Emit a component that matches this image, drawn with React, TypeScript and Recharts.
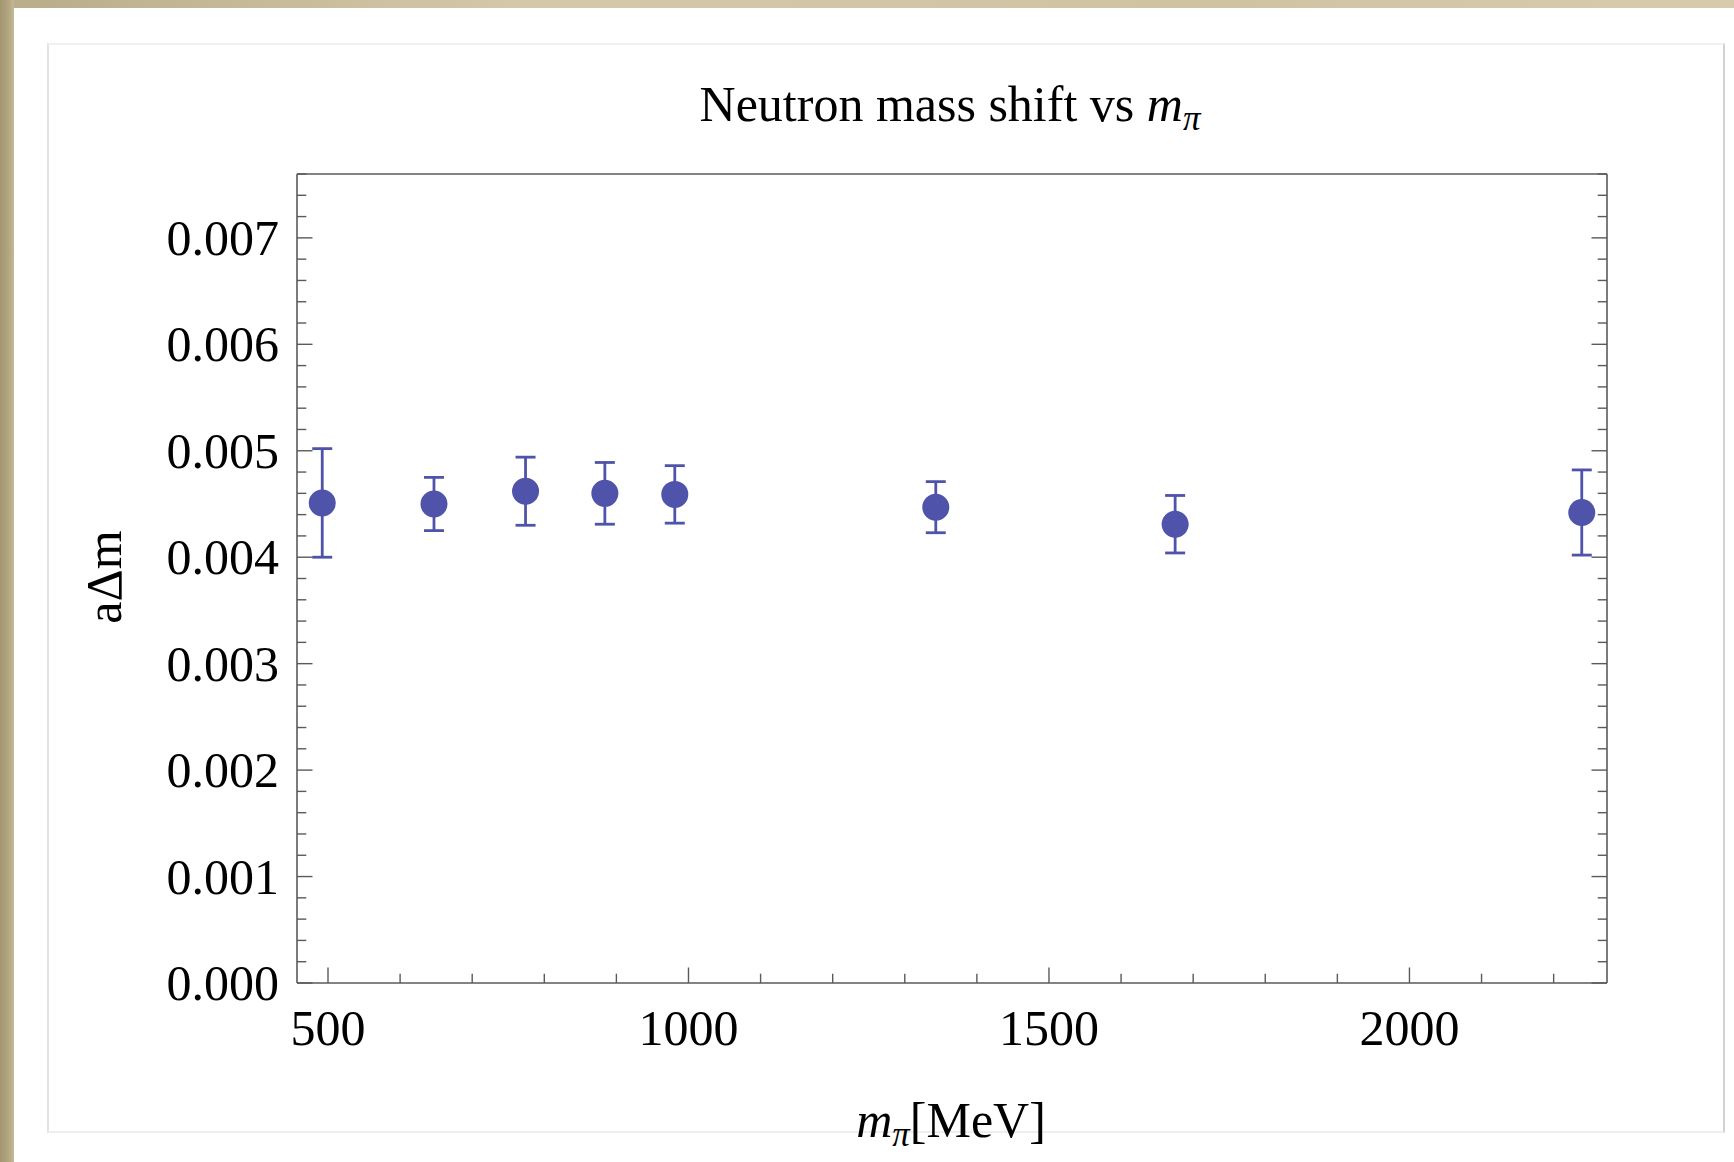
import React from "react";
import { ScatterChart, Scatter, XAxis, YAxis, ErrorBar } from "recharts";

// pion mass [MeV], neutron mass shift aΔm and its error
const pionMass = [492, 647, 774, 884, 981, 1343, 1675, 2239];
const massShift = [0.00451, 0.0045, 0.00462, 0.0046, 0.00459, 0.00447, 0.00431, 0.00442];
const shiftError = [0.00051, 0.00025, 0.00032, 0.00029, 0.00027, 0.00024, 0.00027, 0.0004];

const xMajorTicks = [500, 1000, 1500, 2000];
const yMajorTicks = [0, 0.001, 0.002, 0.003, 0.004, 0.005, 0.006, 0.007];
const xDomain = [457, 2274];
const yDomain = [0, 0.0076];

// minor ticks every 100 MeV and every 0.0002
const xTicks = Array.from({ length: 18 }, (_, i) => 500 + i * 100);
const yTicks = Array.from({ length: 39 }, (_, i) => +(i * 0.0002).toFixed(4));

const DOT = "#4f53a9";
const FRAME = "#5a5a5a";
const FONT = "'Liberation Serif', 'Times New Roman', serif";
const MAJOR_LEN = 15.5;
const MINOR_LEN = 9.3;

const isMajorX = (v: number) => xMajorTicks.includes(v);
const isMajorY = (v: number) => yMajorTicks.some((t) => Math.abs(t - v) < 1e-9);

const points = pionMass.map((m, i) => ({ m, shift: massShift[i], err: shiftError[i] }));

const BottomTick = (props: any) => {
  const { x, y, payload } = props;
  const major = isMajorX(payload.value);
  return (
    <g>
      <line x1={x} x2={x} y1={y} y2={y - (major ? MAJOR_LEN : MINOR_LEN)} stroke={FRAME} strokeWidth={1.4} />
      {major && (
        <text x={x} y={y + 62} textAnchor="middle" fontSize={50} fontFamily={FONT} fill="#000">
          {payload.value}
        </text>
      )}
    </g>
  );
};

const TopTick = (props: any) => {
  const { x, y, payload } = props;
  const major = isMajorX(payload.value);
  return <line x1={x} x2={x} y1={y} y2={y + (major ? MAJOR_LEN : MINOR_LEN)} stroke={FRAME} strokeWidth={1.4} />;
};

const LeftTick = (props: any) => {
  const { x, y, payload } = props;
  const major = isMajorY(payload.value);
  return (
    <g>
      <line x1={x} x2={x + (major ? MAJOR_LEN : MINOR_LEN)} y1={y} y2={y} stroke={FRAME} strokeWidth={1.4} />
      {major && (
        <text x={x - 18} y={y + 17} textAnchor="end" fontSize={50} fontFamily={FONT} fill="#000">
          {payload.value.toFixed(3)}
        </text>
      )}
    </g>
  );
};

const RightTick = (props: any) => {
  const { x, y, payload } = props;
  const major = isMajorY(payload.value);
  return <line x1={x} x2={x - (major ? MAJOR_LEN : MINOR_LEN)} y1={y} y2={y} stroke={FRAME} strokeWidth={1.4} />;
};

const Dot = (props: any) => <circle cx={props.cx} cy={props.cy} r={13.5} fill={DOT} />;

export default function App() {
  return (
    <div style={{ position: "absolute", left: 0, top: 0, width: 1734, height: 1162, overflow: "hidden", background: "#fff" }}>
      <div style={{ position: "absolute", left: 0, top: 0, width: 1734, height: 8, background: "linear-gradient(90deg, #b9ad88, #d3c9a9 30%, #cfc4a2 70%, #d6ccad)" }} />
      <div style={{ position: "absolute", left: 0, top: 0, width: 14, height: 1162, background: "linear-gradient(90deg, #a2966f, #b1a680 60%, #c4b995)" }} />
      <div
        style={{
          position: "absolute",
          left: 47,
          top: 43,
          width: 1674,
          height: 1086,
          borderTop: "2px solid #f1f1f1",
          borderLeft: "2px solid #e2e2e2",
          borderRight: "2px solid #d2d2d2",
          borderBottom: "2px solid #eeeeee",
        }}
      />
      <div style={{ position: "absolute", left: 0, top: 0 }}>
        <ScatterChart width={1734} height={1162} margin={{ top: 173, right: 126, bottom: 178, left: 296 }}>
          <XAxis
            dataKey="m"
            type="number"
            domain={xDomain}
            allowDataOverflow
            ticks={xTicks}
            interval={0}
            height={1}
            tickSize={0}
            tickMargin={0}
            tickLine={false}
            tick={BottomTick}
            axisLine={{ stroke: FRAME, strokeWidth: 1.6 }}
          />
          <XAxis
            xAxisId="top"
            orientation="top"
            type="number"
            domain={xDomain}
            allowDataOverflow
            ticks={xTicks}
            interval={0}
            height={1}
            tickSize={0}
            tickMargin={0}
            tickLine={false}
            tick={TopTick}
            axisLine={{ stroke: FRAME, strokeWidth: 1.6 }}
          />
          <YAxis
            dataKey="shift"
            type="number"
            domain={yDomain}
            allowDataOverflow
            ticks={yTicks}
            interval={0}
            width={1}
            tickSize={0}
            tickMargin={0}
            tickLine={false}
            tick={LeftTick}
            axisLine={{ stroke: FRAME, strokeWidth: 1.6 }}
          />
          <YAxis
            yAxisId="right"
            orientation="right"
            type="number"
            domain={yDomain}
            allowDataOverflow
            ticks={yTicks}
            interval={0}
            width={1}
            tickSize={0}
            tickMargin={0}
            tickLine={false}
            tick={RightTick}
            axisLine={{ stroke: FRAME, strokeWidth: 1.6 }}
          />
          <Scatter data={points} fill={DOT} shape={Dot} isAnimationActive={false}>
            <ErrorBar dataKey="err" direction="y" width={10} strokeWidth={2.8} stroke={DOT} isAnimationActive={false} />
          </Scatter>
        </ScatterChart>
      </div>
      <svg width={1734} height={1162} style={{ position: "absolute", left: 0, top: 0, pointerEvents: "none" }}>
        <text x={950} y={121} textAnchor="middle" fontSize={50} fontFamily={FONT} fill="#000">
          Neutron mass shift vs <tspan fontStyle="italic">m</tspan>
          <tspan fontStyle="italic" fontSize={35} dy={9}>π</tspan>
        </text>
        <text x={951} y={1137} textAnchor="middle" fontSize={50} fontFamily={FONT} fill="#000">
          <tspan fontStyle="italic">m</tspan>
          <tspan fontStyle="italic" fontSize={35} dy={9}>π</tspan>
          <tspan dy={-9}>[MeV]</tspan>
        </text>
        <text transform="translate(121,577) rotate(-90)" textAnchor="middle" fontSize={50} fontFamily={FONT} fill="#000">
          aΔm
        </text>
      </svg>
    </div>
  );
}
